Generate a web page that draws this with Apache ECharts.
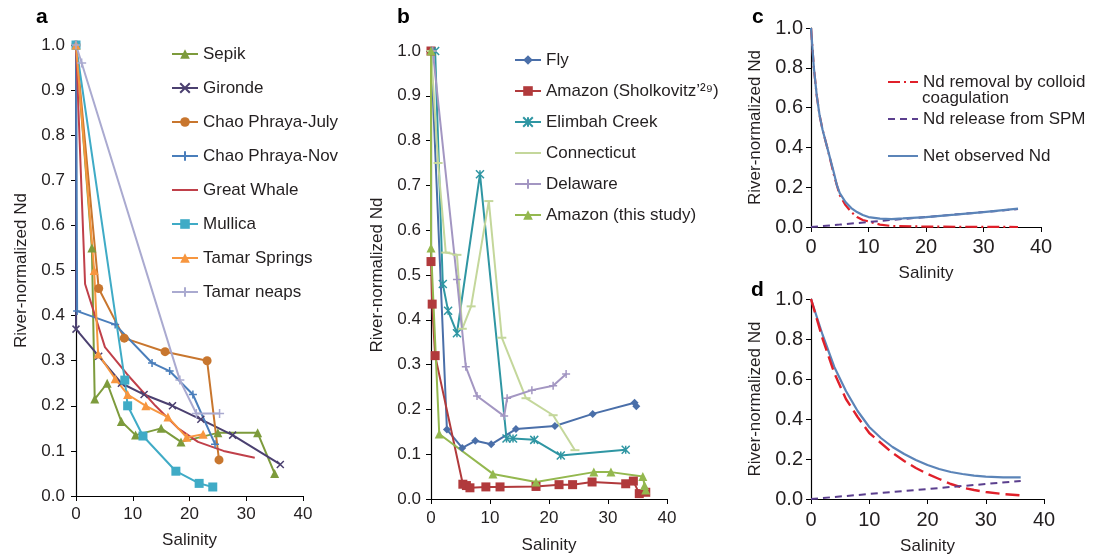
<!DOCTYPE html>
<html><head><meta charset="utf-8">
<script src="https://cdn.jsdelivr.net/npm/echarts@6/dist/echarts.min.js"></script>
<style>html,body{margin:0;padding:0;background:#fff}#c{width:1096px;height:555px}</style>
</head><body><div id="c"></div>
<script>
// ---------- Panel a data: [salinity, river-normalized Nd] ----------
const sepik        = [[0,1.0],[2.8,0.55],[3.3,0.215],[5.5,0.25],[8,0.165],[10.5,0.135],[15,0.15],[18.5,0.12],[25,0.14],[32,0.14],[35,0.05]];
const gironde      = [[0,1.0],[0,0.37],[4,0.31],[8,0.25],[12,0.225],[17,0.2],[22,0.17],[27.6,0.135],[36,0.07]];
const chaoJuly     = [[0,1.0],[4,0.46],[8.5,0.35],[15.7,0.32],[23.1,0.30],[25.2,0.08]];
const chaoNov      = [[0,1.0],[0.2,0.41],[6.9,0.38],[13.4,0.295],[16.5,0.277],[20.6,0.225],[24.5,0.115]];
const greatWhale   = [[0,1.0],[1.6,0.47],[5.1,0.33],[9,0.27],[14,0.2],[18,0.15],[21.5,0.12],[26,0.1],[31.5,0.085]];
const mullica      = [[0,1.0],[8.6,0.257],[9.1,0.2],[11.8,0.133],[17.6,0.055],[21.7,0.028],[24.1,0.02]];
const tamarSprings = [[0,1.0],[3.2,0.5],[3.9,0.315],[6.9,0.26],[9.1,0.225],[12.3,0.2],[16.2,0.175],[19.5,0.13],[22.4,0.137]];
const tamarNeaps   = [[0,1.0],[1,0.96],[18.3,0.257],[21.2,0.183],[25.3,0.183]];

// ---------- Panel b data ----------
const fly          = [[0,1.0],[2.7,0.155],[5.3,0.114],[7.5,0.13],[10.2,0.122],[14.4,0.156],[21,0.163],[27.4,0.19],[34.5,0.215],[34.8,0.207]];
const amazonShol   = [[0,1.0],[0,0.53],[0.2,0.435],[0.7,0.32],[5.4,0.033],[6,0.03],[6.6,0.025],[9.3,0.027],[11.7,0.027],[17.8,0.028],[21.7,0.032],[24,0.032],[27.3,0.038],[33,0.034],[34.3,0.04],[35.3,0.012],[36.4,0.015]];
const elimbah      = [[0.7,1.0],[2,0.48],[2.9,0.42],[4.4,0.37],[8.3,0.725],[12.8,0.135],[13.9,0.135],[17.5,0.132],[22,0.097],[33,0.11]];
const connecticut  = [[0,1.0],[1.2,0.75],[2.5,0.55],[4.4,0.545],[5.3,0.38],[6.8,0.43],[9.8,0.665],[12,0.36],[16.1,0.225],[20.7,0.187],[24.4,0.109]];
const delaware     = [[0.3,1.0],[4.4,0.49],[5.9,0.295],[7.8,0.23],[12.4,0.185],[12.9,0.225],[17.1,0.243],[20.7,0.253],[22.9,0.279]];
const amazonThis   = [[0,1.0],[0,0.56],[1.4,0.145],[10.5,0.056],[17.8,0.038],[27.6,0.06],[30.5,0.06],[35.9,0.05],[36.2,0.03],[36.4,0.02]];

// ---------- Panel c data ----------
const cNet     = [[0,1.0],[0.5,0.8],[1,0.66],[1.5,0.56],[2,0.49],[3,0.38],[4,0.27],[4.5,0.21],[5,0.17],[6,0.125],[7,0.095],[8,0.075],[9,0.06],[10,0.05],[12,0.042],[14,0.04],[16,0.043],[20,0.05],[25,0.062],[30,0.075],[36,0.092]];
const cRemoval = [[0,1.0],[0.5,0.8],[1,0.66],[1.5,0.56],[2,0.49],[3,0.38],[4,0.26],[5,0.16],[6,0.11],[7,0.075],[8,0.05],[9,0.035],[10,0.028],[11,0.02],[12,0.012],[14,0.005],[20,0.002],[36,0.0]];
const cRelease = [[0,0.0],[5,0.012],[10,0.025],[15,0.038],[20,0.05],[30,0.075],[36,0.09]];

// ---------- Panel d data ----------
const dNet     = [[0,1.0],[2,0.82],[4,0.66],[6,0.54],[8,0.44],[10,0.36],[12,0.305],[14,0.26],[16,0.225],[18,0.195],[20,0.17],[22,0.15],[24,0.135],[26,0.125],[28,0.117],[30,0.112],[33,0.108],[36,0.108]];
const dRemoval = [[0,1.0],[2,0.80],[4,0.63],[6,0.50],[8,0.41],[10,0.33],[12,0.28],[14,0.23],[16,0.19],[18,0.155],[20,0.125],[22,0.10],[24,0.075],[26,0.057],[28,0.045],[30,0.035],[33,0.025],[36,0.018]];
const dRelease = [[0,0.0],[10,0.025],[20,0.05],[30,0.075],[36,0.09]];

const xTicks = [0,10,20,30,40];

const FONT = '"Liberation Sans", Arial, sans-serif';
const TXT = '#231f20';
const SYM_X = 'path://M0,0L10,10M10,0L0,10';
const SYM_PLUS = 'path://M5,0L5,10M0,5L10,5';
const SYM_AST = 'path://M0,0L10,10M10,0L0,10M5,0L5,10';

function mk(name, data, color, symbol, size, gi, extra) {
  const s = {
    name, type: 'line', data, xAxisIndex: gi, yAxisIndex: gi,
    symbol: symbol || 'none', symbolSize: size || 8, clip: false,
    showSymbol: !!symbol, animation: false,
    lineStyle: { color, width: 2 },
    itemStyle: { color, borderColor: color, borderWidth: (symbol && symbol.startsWith('path')) ? 1.5 : 0 },
    emphasis: { disabled: true }
  };
  return Object.assign(s, extra || {});
}

const grids = [
  { left: 76, top: 45, width: 227, height: 451, outerBoundsMode: 'none' },
  { left: 431, top: 51, width: 236, height: 448, outerBoundsMode: 'none' },
  { left: 811, top: 28, width: 230, height: 199, outerBoundsMode: 'none' },
  { left: 811, top: 299, width: 233, height: 200, outerBoundsMode: 'none' }
];

function xAx(gi, labelSize, margin, gap) {
  return {
    gridIndex: gi, type: 'value', min: xTicks[0], max: xTicks[xTicks.length-1], interval: 10,
    name: 'Salinity', nameLocation: 'middle', nameGap: gap,
    nameTextStyle: { fontFamily: FONT, fontSize: 17, color: TXT },
    axisLine: { lineStyle: { color: '#000', width: 1.2 } },
    axisTick: { show: true, length: 5, lineStyle: { color: '#000' } },
    axisLabel: { fontFamily: FONT, fontSize: labelSize, color: TXT, margin },
    splitLine: { show: false }
  };
}
function yAx(gi, interval, labelSize, margin, gap) {
  return {
    gridIndex: gi, type: 'value', min: 0, max: 1, interval,
    name: 'River-normalized Nd', nameLocation: 'middle', nameGap: gap, nameRotate: 90,
    nameTextStyle: { fontFamily: FONT, fontSize: 17, color: TXT },
    axisLine: { show: true, lineStyle: { color: '#000', width: 1.2 } },
    axisTick: { show: true, length: 5, lineStyle: { color: '#000' } },
    axisLabel: { fontFamily: FONT, fontSize: labelSize, color: TXT, margin, formatter: v => v.toFixed(1) },
    splitLine: { show: false }
  };
}

const series = [
  mk('Sepik', sepik, '#7d9b3c', 'triangle', 9, 0),
  mk('Gironde', gironde, '#4b4070', SYM_X, 7, 0),
  mk('Chao Phraya-July', chaoJuly, '#c8762e', 'circle', 9, 0),
  mk('Chao Phraya-Nov', chaoNov, '#4a7ebb', SYM_PLUS, 8, 0),
  mk('Great Whale', greatWhale, '#c0404a', null, 0, 0),
  mk('Mullica', mullica, '#3fabc6', 'rect', 9, 0),
  mk('Tamar Springs', tamarSprings, '#f7963f', 'triangle', 9, 0),
  mk('Tamar neaps', tamarNeaps, '#aaaad0', SYM_PLUS, 9, 0),

  mk('Fly', fly, '#4a6fa9', 'diamond', 8, 1),
  mk('Amazon (Sholkovitz\u2019\u00b2\u2079)', amazonShol, '#b13a3c', 'rect', 9, 1),
  mk('Elimbah Creek', elimbah, '#2f96a3', SYM_AST, 8, 1),
  mk('Connecticut', connecticut, '#c4d79b', 'rect', [9, 2], 1),
  mk('Delaware', delaware, '#a396c2', SYM_PLUS, 8, 1),
  mk('Amazon (this study)', amazonThis, '#94b84f', 'triangle', 9, 1),

  mk('Nd removal by colloid', cRemoval, '#e0202a', null, 0, 2, { lineStyle: { color: '#e0202a', width: 2.2, type: [12, 4, 2, 4] }, z: 2 }),
  mk('Nd release from SPM', cRelease, '#5b3f8e', null, 0, 2, { lineStyle: { color: '#5b3f8e', width: 2, type: [7, 5] }, z: 2 }),
  mk('Net observed Nd', cNet, '#5b84b8', null, 0, 2, { lineStyle: { color: '#5b84b8', width: 2.2 }, z: 3 }),

  mk('d removal', dRemoval, '#e0202a', null, 0, 3, { lineStyle: { color: '#e0202a', width: 2.4, type: [14, 6] }, z: 3 }),
  mk('d release', dRelease, '#5b3f8e', null, 0, 3, { lineStyle: { color: '#5b3f8e', width: 2, type: [7, 5] }, z: 3 }),
  mk('d net', dNet, '#5b84b8', null, 0, 3, { lineStyle: { color: '#5b84b8', width: 2.2 }, z: 2 })
];

const noMark = { opacity: 0 };
const legTxt = { fontFamily: FONT, fontSize: 17, color: TXT, lineHeight: 18 };
const option = {
  animation: false,
  backgroundColor: '#fff',
  grid: grids,
  xAxis: [xAx(0, 17, 10, 36), xAx(1, 17, 11, 38), xAx(2, 20, 10, 38), xAx(3, 20, 11, 39)],
  yAxis: [yAx(0, 0.1, 17, 11, 46), yAx(1, 0.1, 17, 10, 45), yAx(2, 0.2, 20, 8, 47), yAx(3, 0.2, 20, 8, 47)],
  legend: [
    { orient: 'vertical', left: 166, top: 40, itemWidth: 26, itemHeight: 12, itemGap: 16,
      textStyle: legTxt, selectedMode: false,
      data: ['Sepik','Gironde','Chao Phraya-July','Chao Phraya-Nov',{ name: 'Great Whale', itemStyle: noMark },'Mullica','Tamar Springs','Tamar neaps'] },
    { orient: 'vertical', left: 509, top: 46, itemWidth: 26, itemHeight: 12, itemGap: 13,
      textStyle: legTxt, selectedMode: false,
      data: ['Fly','Amazon (Sholkovitz\u2019\u00b2\u2079)','Elimbah Creek',{ name: 'Connecticut', itemStyle: noMark },'Delaware','Amazon (this study)'] },
    { orient: 'vertical', left: 882, top: 68, itemWidth: 30, itemHeight: 12, itemGap: 19,
      textStyle: legTxt, selectedMode: false,
      data: [{ name: 'Nd removal by colloid', itemStyle: noMark },{ name: 'Nd release from SPM', itemStyle: noMark },{ name: 'Net observed Nd', itemStyle: noMark }] }
  ],
  graphic: [
    { type: 'text', x: 922, y: 90, style: { text: 'coagulation', font: '17px ' + FONT, fill: TXT } },
    { type: 'text', x: 36, y: 7, style: { text: 'a', font: 'bold 21px ' + FONT, fill: '#000' } },
    { type: 'text', x: 397, y: 7, style: { text: 'b', font: 'bold 21px ' + FONT, fill: '#000' } },
    { type: 'text', x: 752, y: 7, style: { text: 'c', font: 'bold 21px ' + FONT, fill: '#000' } },
    { type: 'text', x: 751, y: 280, style: { text: 'd', font: 'bold 21px ' + FONT, fill: '#000' } }
  ],
  series
};
const chart = echarts.init(document.getElementById('c'), null, { renderer: 'canvas' });
chart.setOption(option);
</script>
</body></html>
